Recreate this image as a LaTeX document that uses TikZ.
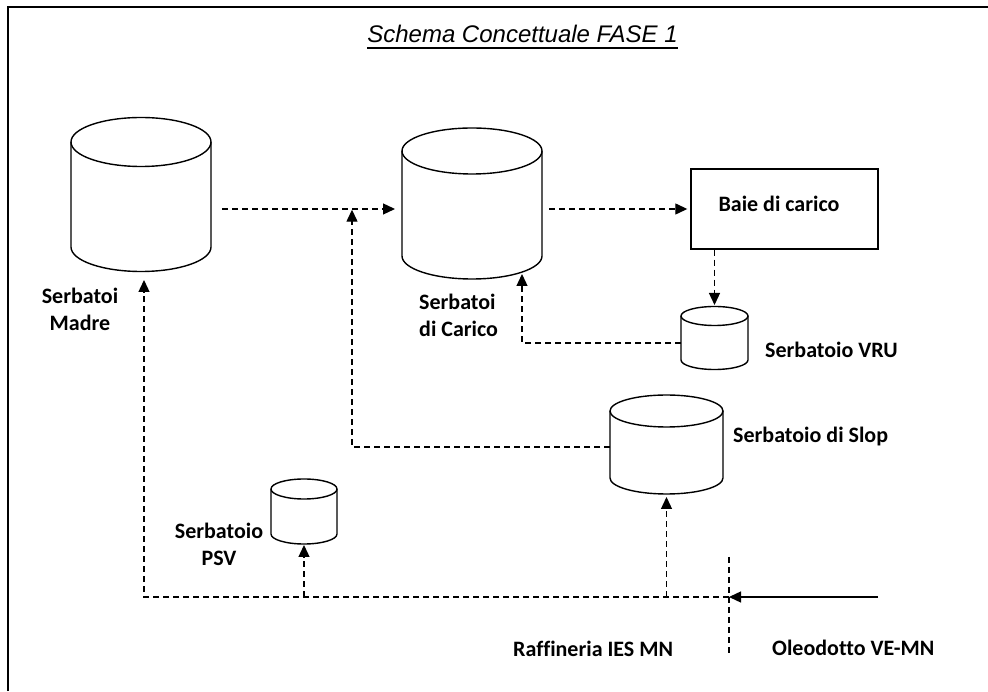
\documentclass[tikz,border=0pt]{standalone}
\usepackage{fontspec}
\newfontfamily\labfont[Ligatures=NoCommon]{Carlito}
\newfontfamily\titlefont{Liberation Sans}
\usetikzlibrary{arrows.meta}
\newcommand\drawtank[6]{%
  \node[tankbox, minimum width={2*#5pt}, minimum height={(#3-#4+2*#6)*1pt}] (#1) at (#2,{(#3+#4)/2}) {};
  \draw[tankline] ({#2-#5},#3) -- ({#2-#5},#4) arc[start angle=180, end angle=360, x radius=#5pt, y radius=#6pt] -- ({#2+#5},#3);
  \draw[tankline] (#2,#3) ellipse[x radius=#5pt, y radius=#6pt];
}
\begin{document}
\begin{tikzpicture}[x=1pt,y=1pt,
  tankbox/.style={draw=none, inner sep=0pt, outer sep=0pt, rectangle},
  tankline/.style={line width=1.4pt},
  tip/.style={-{Triangle[length=12pt,width=11pt]}},
  flow/.style={line width=1.3pt, dash pattern=on 6pt off 4pt, tip},
  dline/.style={line width=1.3pt, dash pattern=on 6pt off 4pt},
  lbl/.style={font=\labfont\bfseries\fontsize{22}{27}\selectfont, inner sep=0pt},
]
\useasboundingbox (0,0) rectangle (988,691);
% frame
\draw[line width=1.8pt] (8,0) -- (8,684) -- (988,684);
% title
\node[font=\titlefont\itshape\fontsize{24}{29}\selectfont, anchor=base, inner sep=0pt] (title) at (522.5,648) {Schema Concettuale FASE 1};
\draw[line width=1.5pt] ([yshift=-5pt]title.base west) -- ([yshift=-5pt]title.base east);

% tanks
\drawtank{madre}{141}{549}{444}{70}{24.5}
\drawtank{carico}{472}{540}{435}{70}{23}
\drawtank{vru}{714.5}{375}{331}{33.5}{9.5}
\drawtank{slop}{666.5}{280}{213}{56.5}{16}
\drawtank{psv}{304}{202}{157}{33}{10}

% loading bays
\node[draw, line width=1.4pt, minimum width=187pt, minimum height=80pt, inner sep=0pt] (baie) at (784.5,482) {};
\node[lbl, anchor=base] (baietxt) at (779,479) {Baie di carico};

% labels
\node[lbl, anchor=base, align=center] (madrelbl) at (80,360) {Serbatoi\\Madre};
\node[lbl, anchor=base west, align=left] (caricolbl) at (419,354) {Serbatoi\\di Carico};
\node[lbl, anchor=base west] (vrulbl) at (765,333) {Serbatoio VRU};
\node[lbl, anchor=base west] (sloplbl) at (733,248) {Serbatoio di Slop};
\node[lbl, anchor=base, align=center] (psvlbl) at (219,125) {Serbatoio\\PSV};
\node[lbl, anchor=base west] (raflbl) at (513,35) {Raffineria IES MN};
\node[lbl, anchor=base west] (oleolbl) at (772,36) {Oleodotto VE-MN};

% junctions
\coordinate (j1) at (352,482);
\coordinate (j2) at (352,244);
\coordinate (j3) at (522,348);
\coordinate (ies) at (729,94);
\coordinate (oleo) at (878,94);
\coordinate (j4) at (144,94);
\coordinate (sepTop) at (729,134);
\coordinate (sepBot) at (729,38);

% connectors
\draw[flow, shorten <=11pt, shorten >=7pt] (madre.east |- j1) -- (carico.west |- j1);
\draw[flow, shorten >=0.7pt] (slop.west |- j2) -- (j2) -- (j1);
\draw[flow, shorten <=7pt, shorten >=3pt] (carico.east |- j1) -- (baie.west);
\draw[flow, shorten >=1.5pt] (vru.north |- baie.south) -- (vru.north);
\draw[flow, shorten >=-5pt] (vru.west |- j3) -- (j3) -- (j3 |- carico.south);
\draw[flow, shorten >=8.5pt] (ies) -- (j4) -- (j4 |- madre.south);
\draw[flow, shorten >=1pt] (psv.south |- ies) -- (psv.south);
\draw[flow, shorten >=3pt] (slop.south |- ies) -- (slop.south);
\draw[line width=1.4pt, tip] (oleo) -- (ies);
\draw[dline] (sepTop) -- (sepBot);
\end{tikzpicture}
\end{document}
